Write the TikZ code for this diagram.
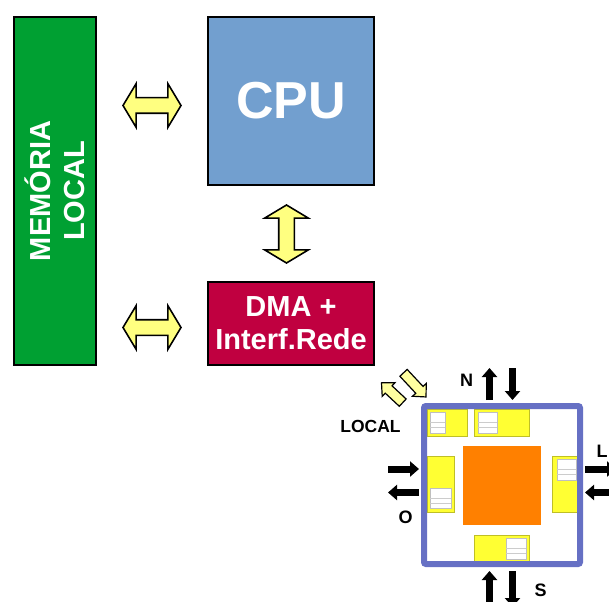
\documentclass[tikz,border=0pt]{standalone}
\usepackage{fontspec}
\setmainfont{Liberation Sans}
\usetikzlibrary{arrows.meta,shapes.arrows,positioning}
\definecolor{memgreen}{RGB}{0,160,50}
\definecolor{cpublue}{RGB}{114,159,207}
\definecolor{dmared}{RGB}{192,0,64}
\definecolor{busyellow}{RGB}{255,255,128}
\definecolor{locyellow}{RGB}{255,255,160}
\definecolor{routerblue}{RGB}{102,112,196}
\definecolor{bufyellow}{RGB}{255,255,51}
\definecolor{coreorange}{RGB}{255,128,0}
\newcommand{\fifo}[4]{%
 \filldraw[fill=white,draw=black!25,line width=.6pt] (#1,#2) rectangle (#3,#4);
 \draw[black!20,line width=.6pt] (#1,{#2+.5*(#4-#2)}) -- (#3,{#2+.5*(#4-#2)})
  (#1,{#2+.75*(#4-#2)}) -- (#3,{#2+.75*(#4-#2)});}

\tikzset{
 block/.style={draw=black,line width=2pt,inner sep=0pt,text=white,
  font=\bfseries,align=center},
 busarrow/.style={double arrow,draw=black,line width=1.6pt,fill=busyellow,
  inner xsep=0pt,inner ysep=7pt,minimum height=58pt,minimum width=42pt,
  double arrow head extend=14pt,double arrow tip angle=118},
 locarrow/.style={single arrow,draw=black,line width=1.2pt,fill=locyellow,
  inner xsep=0pt,inner ysep=4.4pt,minimum width=17.6pt,
  single arrow head extend=4.4pt,single arrow tip angle=88},
 sig/.style={line width=7pt,-{Triangle[length=9pt,width=15pt]}},
 lbl/.style={font=\bfseries\fontsize{18}{20}\selectfont,inner sep=0pt}
}

\begin{document}
\begin{tikzpicture}[x=1pt,y=-1pt,line join=miter]
 \useasboundingbox (0,0) rectangle (609,601);
 % node processor
 \node[block,fill=memgreen,rotate=90,minimum width=348pt,minimum height=82pt,
  font=\bfseries\fontsize{29}{34}\selectfont] (mem) at (55,191)
  {MEMÓRIA\\LOCAL};
 \node[block,fill=cpublue,minimum width=166pt,minimum height=168pt,
  font=\bfseries\fontsize{52}{60}\selectfont] (cpu) at (291,101) {CPU};
 \node[block,fill=dmared,minimum width=166pt,minimum height=83pt,
  font=\bfseries\fontsize{29}{33}\selectfont] (dma) at (291,323.5)
  {DMA +\\Interf.Rede};
 \node[busarrow] (memcpu) at (152,105.5) {};
 \node[busarrow] (memdma) at (152,327.5) {};
 \node[busarrow,rotate=90] (cpudma) at (286.5,234) {};
 \node[locarrow,rotate=-47,minimum height=33pt] (tonoc) at (413,383) {};
 \node[locarrow,rotate=137,minimum height=29pt] (fromnoc) at (394,394.5) {};
 \node[lbl,font=\bfseries\fontsize{17.5}{20}\selectfont] (lbllocal)
  at (370.5,426.5) {LOCAL};
 % router
 \foreach \xa/\ya/\xb/\yb in {427/409/467/436,474/409/529/436,
  427/456/454/512,552/456/577/512,474/535/529/562}
  \filldraw[fill=bufyellow,draw=bufyellow!75!black,line width=.6pt]
   (\xa,\ya) rectangle (\xb,\yb);
 \fifo{430}{412}{445}{433}
 \fifo{478}{412}{497}{433}
 \fifo{430}{488}{451}{508}
 \fifo{557}{459}{576}{480}
 \fifo{506}{538}{526}{559}
 \fill[coreorange] (463,446) rectangle (541,525);
 \draw[routerblue,line width=6pt,rounded corners=2pt] (424,406) rectangle (580,564);
 % ports
 \draw[sig] (489.5,400) -- (489.5,368);
 \draw[sig] (512.5,368) -- (512.5,400);
 \draw[sig] (489.5,606) -- (489.5,571);
 \draw[sig] (512.5,571) -- (512.5,607);
 \draw[sig] (388,469) -- (419,469);
 \draw[sig] (419,492.5) -- (388,492.5);
 \draw[sig] (585,469) -- (616,469);
 \draw[sig] (616,492.5) -- (585,492.5);
 \node[lbl] (lbln) at (466.5,380.5) {N};
 \node[lbl] (lbls) at (540.5,590.5) {S};
 \node[lbl] (lblo) at (405.5,517) {O};
 \node[lbl,anchor=base west] (lbll) at (596.5,457) {L};
\end{tikzpicture}
\end{document}
